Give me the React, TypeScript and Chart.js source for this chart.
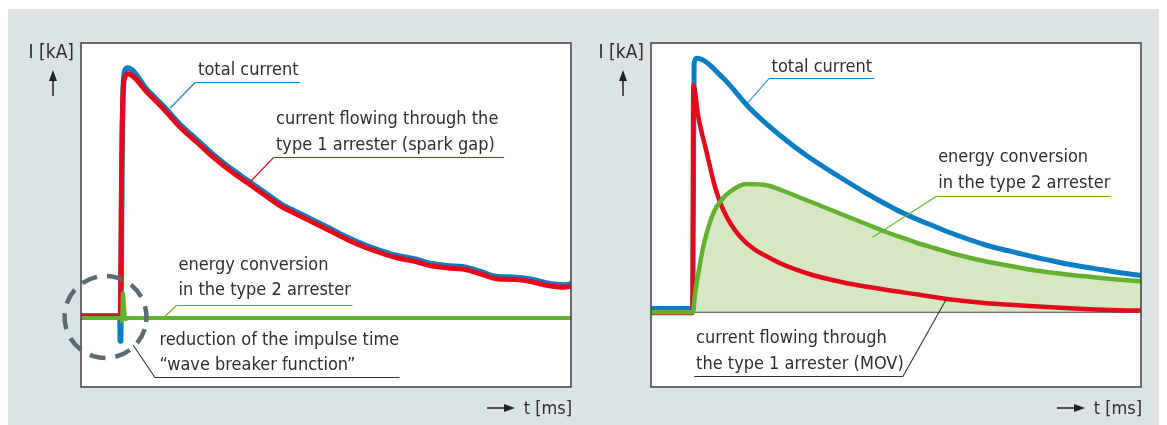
import React, { useEffect, useRef } from "react";
import { Chart, registerables } from "chart.js";

Chart.register(...registerables);

// ---------- Left panel: spark gap (type 1) + type 2 arrester ----------
const tTotalLeft = [0, 7.95, 8.02, 8.1, 8.35, 8.7, 9.1, 9.52, 13.6, 17.0, 20.4, 23.8, 27.2, 30.6, 34.0, 37.4, 40.8, 44.2, 47.6, 51.0, 54.4, 57.8, 61.2, 64.6, 68.0, 71.4, 74.8, 78.2, 81.6, 85.0, 88.4, 91.8, 95.2, 98.6, 100];
const totalLeft = [0.8, 0.8, -9.2, -9.2, 60, 95, 99.5, 100, 91, 84.3, 77, 71, 65, 59.7, 55, 50.3, 45.6, 42.2, 38.9, 35.6, 32.2, 29.3, 26.9, 24.9, 23.6, 21.8, 20.9, 20.4, 18.5, 16.5, 16.3, 15.5, 13.9, 13.2, 13.6];

const tSparkLeft = [0, 8.0, 8.25, 8.55, 9.0, 9.52, 13.6, 17.0, 20.4, 23.8, 27.2, 30.6, 34.0, 37.4, 40.8, 44.2, 47.6, 51.0, 54.4, 57.8, 61.2, 64.6, 68.0, 71.4, 74.8, 78.2, 81.6, 85.0, 88.4, 91.8, 95.2, 98.6, 100];
const sparkLeft = [0.8, 0.8, 50, 90, 96.5, 97.7, 90, 83.3, 76, 70, 64, 58.7, 54, 49.3, 44.7, 41.3, 38, 34.7, 31.3, 28.4, 26, 24, 22.7, 20.9, 20.0, 19.5, 17.6, 15.6, 15.4, 14.6, 13.0, 12.3, 12.7];

const tType2Left = [0, 8.25, 8.35, 8.57, 8.75, 8.95, 9.2, 9.5, 100];
const type2Left = [0, 0, -1.5, 10, 6, 0.5, -0.5, 0, 0];

// ---------- Right panel: MOV (type 1) + type 2 arrester ----------
const tTotalRight = [0, 8.3, 8.55, 8.8, 9.32, 14.76, 20.2, 26.3, 31.8, 38.6, 44.2, 47.6, 51.0, 54.4, 57.8, 61.2, 64.6, 68.0, 71.4, 74.8, 78.2, 81.6, 85.0, 88.4, 91.8, 95.2, 100];
const totalRight = [1.5, 1.5, 1.5, 99.5, 101.6, 93.6, 81.5, 70.8, 62.6, 54.0, 47.3, 43.6, 40.1, 37.1, 34.4, 31.7, 29.3, 27.1, 25.3, 23.7, 22.1, 20.7, 19.3, 18.1, 17.1, 16.0, 14.7];

const tMovRight = [0, 8.3, 8.45, 8.64, 9.66, 11.4, 13.06, 14.76, 18.2, 25.0, 31.8, 38.6, 47.6, 54.4, 61.2, 68.0, 74.8, 81.6, 88.4, 95.2, 100];
const movRight = [-0.3, -0.3, -0.3, 90.9, 78.2, 63.6, 50.2, 40.9, 30.2, 20.9, 15.6, 12.2, 9.1, 7.1, 5.1, 3.7, 2.8, 2.0, 1.3, 0.8, 0.7];

const tType2Right = [0, 8.6, 8.9, 9.66, 10.68, 12.7, 14.4, 16.1, 19.5, 23.8, 27.2, 30.6, 34.0, 37.4, 40.8, 44.2, 47.6, 51.0, 54.4, 57.8, 61.2, 64.6, 68.0, 71.4, 74.8, 78.2, 81.6, 85.0, 88.4, 91.8, 95.2, 100];
const type2Right = [0, 0, 6, 15.6, 26.3, 39.6, 44.9, 48.2, 51.3, 50.7, 48.4, 45.7, 43.1, 40.4, 37.7, 35.1, 32.4, 30.0, 27.7, 25.7, 23.7, 22.0, 20.5, 19.2, 18.0, 16.8, 15.9, 15.1, 14.4, 13.7, 13.1, 12.4];

const tBaselineRight = [8.6, 100];
const baselineRight = [0, 0];

// ---------- text ----------
const yAxisLabel = "I [kA]";
const xAxisLabel = "t [ms]";

const BLUE = "#0a7ec4";
const RED = "#e30a1c";
const GREEN = "#63b22f";
const FILL = "#d6e7c2";
const DARK = "#333333";
const TEXT = "#2e2e2e";
const GRAY_BG = "#dce3e6";
const FONT = "18px 'DejaVu Sans Condensed', 'Liberation Sans', Arial, sans-serif";
const AXIS_FONT = "19px 'DejaVu Sans Condensed', 'Liberation Sans', Arial, sans-serif";
const LINE_GAP = 25.5;

type Note = {
  lines: string[];
  color: string;
  tx: number; ty: number;
  uy: number; ux0: number; ux1: number;
  lx: number; ly: number;
  fromRight?: boolean;
};

const notesLeft: Note[] = [
  { lines: ["total current"], color: BLUE, tx: 23.9, ty: 97.2, uy: 94.3, ux0: 23.3, ux1: 44.7, lx: 18.2, ly: 84 },
  { lines: ["current flowing through the", "type 1 arrester (spark gap)"], color: RED, tx: 39.8, ty: 77.6, uy: 64.4, ux0: 39.3, ux1: 86.3, lx: 34.3, ly: 54 },
  { lines: ["energy conversion", "in the type 2 arrester"], color: GREEN, tx: 19.9, ty: 19.3, uy: 5.3, ux0: 19.5, ux1: 55.4, lx: 17.0, ly: 0.4 },
  { lines: ["reduction of the impulse time", "\u201Cwave breaker function\u201D"], color: DARK, tx: 16.0, ty: -10.7, uy: -23.6, ux0: 15.1, ux1: 65, lx: 10.6, ly: -10.7 },
];

const notesRight: Note[] = [
  { lines: ["total current"], color: BLUE, tx: 24.6, ty: 96, uy: 93.7, ux0: 24.1, ux1: 45.6, lx: 19.4, ly: 83 },
  { lines: ["energy conversion", "in the type 2 arrester"], color: GREEN, tx: 58.6, ty: 60, uy: 46.6, ux0: 58.2, ux1: 93.9, lx: 45.2, ly: 30 },
  { lines: ["current flowing through", "the type 1 arrester (MOV)"], color: DARK, tx: 9.2, ty: -12.3, uy: -25.6, ux0: 8.8, ux1: 51.4, lx: 60.2, ly: 5, fromRight: true },
];

const pts = (ts: number[], vs: number[]) => ts.map((t, i) => ({ x: t, y: vs[i] }));

function makePlugin(notes: Note[], circle: { x: number; y: number } | null) {
  return {
    id: "decor",
    beforeDraw(chart: any) {
      const { ctx, chartArea: a } = chart;
      ctx.save();
      ctx.fillStyle = "#ffffff";
      ctx.fillRect(a.left, a.top, a.right - a.left, a.bottom - a.top);
      ctx.restore();
    },
    afterDraw(chart: any) {
      const { ctx, chartArea: a, scales } = chart;
      const px = (v: number) => scales.x.getPixelForValue(v);
      const py = (v: number) => scales.y.getPixelForValue(v);
      ctx.save();
      // frame
      ctx.strokeStyle = "#4a4a4a";
      ctx.lineWidth = 1.6;
      ctx.strokeRect(a.left, a.top, a.right - a.left, a.bottom - a.top);

      // axis labels
      ctx.fillStyle = TEXT;
      ctx.font = AXIS_FONT;
      ctx.textAlign = "right";
      ctx.textBaseline = "alphabetic";
      ctx.fillText(yAxisLabel, a.left - 7, a.top + 15);
      // up arrow
      const ax = a.left - 28;
      ctx.strokeStyle = "#222";
      ctx.fillStyle = "#222";
      ctx.lineWidth = 1.5;
      ctx.beginPath();
      ctx.moveTo(ax, a.top + 36);
      ctx.lineTo(ax, a.top + 53);
      ctx.stroke();
      ctx.beginPath();
      ctx.moveTo(ax, a.top + 27);
      ctx.lineTo(ax - 4, a.top + 38);
      ctx.lineTo(ax + 4, a.top + 38);
      ctx.closePath();
      ctx.fill();
      // x label
      ctx.fillStyle = TEXT;
      ctx.font = FONT;
      ctx.fillText(xAxisLabel, a.right + 1, a.bottom + 27);
      const ay = a.bottom + 21;
      ctx.fillStyle = "#222";
      ctx.beginPath();
      ctx.moveTo(a.right - 84, ay);
      ctx.lineTo(a.right - 66, ay);
      ctx.stroke();
      ctx.beginPath();
      ctx.moveTo(a.right - 56, ay);
      ctx.lineTo(a.right - 67, ay - 4);
      ctx.lineTo(a.right - 67, ay + 4);
      ctx.closePath();
      ctx.fill();

      // dashed circle
      if (circle) {
        ctx.strokeStyle = "#5a6b76";
        ctx.lineWidth = 4.5;
        ctx.setLineDash([16, 10]);
        ctx.beginPath();
        ctx.arc(px(circle.x), py(circle.y), 41, 0.3, 0.3 + Math.PI * 2);
        ctx.stroke();
        ctx.setLineDash([]);
      }

      // annotations
      ctx.textAlign = "left";
      for (const n of notes) {
        const x = px(n.tx);
        const y = py(n.ty);
        ctx.fillStyle = TEXT;
        ctx.font = FONT;
        n.lines.forEach((s, i) => ctx.fillText(s, x, y + i * LINE_GAP));
        const uy = Math.round(py(n.uy)) + 0.5;
        const x0 = px(n.ux0);
        const x1 = px(n.ux1);
        ctx.strokeStyle = n.color;
        ctx.lineWidth = 1.1;
        ctx.beginPath();
        ctx.moveTo(x1, uy);
        ctx.lineTo(x0, uy);
        ctx.stroke();
        ctx.beginPath();
        ctx.moveTo(n.fromRight ? x1 : x0, uy);
        ctx.lineTo(px(n.lx), py(n.ly));
        ctx.stroke();
      }
      ctx.restore();
    },
  };
}

function leftConfig(): any {
  return {
    type: "line",
    data: {
      datasets: [
        { data: pts(tTotalLeft, totalLeft), borderColor: BLUE, borderWidth: 5.5, order: 3 },
        { data: pts(tSparkLeft, sparkLeft), borderColor: RED, borderWidth: 5, order: 2 },
        { data: pts(tType2Left, type2Left), borderColor: GREEN, borderWidth: 4, order: 1 },
      ],
    },
    options: {
      responsive: false,
      animation: false,
      devicePixelRatio: 1,
      events: [],
      layout: { padding: { left: 73, top: 34, right: 19, bottom: 38 } },
      scales: {
        x: { type: "linear", min: 0, max: 100, display: false },
        y: { type: "linear", min: -27.6, max: 110, display: false },
      },
      elements: {
        point: { radius: 0 },
        line: { cubicInterpolationMode: "monotone", borderCapStyle: "round", borderJoinStyle: "round", fill: false },
      },
      datasets: { line: { clip: 0 } },
      plugins: { legend: { display: false }, tooltip: { enabled: false } },
    },
    plugins: [makePlugin(notesLeft, { x: 5.0, y: 0.4 })],
  };
}

function rightConfig(): any {
  return {
    type: "line",
    data: {
      datasets: [
        { data: pts(tBaselineRight, baselineRight), borderColor: "#444444", borderWidth: 1, order: 4 },
        { data: pts(tTotalRight, totalRight), borderColor: BLUE, borderWidth: 5, order: 3 },
        { data: pts(tMovRight, movRight), borderColor: RED, borderWidth: 4.5, order: 2 },
        { data: pts(tType2Right, type2Right), borderColor: GREEN, borderWidth: 4.5, backgroundColor: FILL, fill: "origin", order: 1 },
      ],
    },
    options: {
      responsive: false,
      animation: false,
      devicePixelRatio: 1,
      events: [],
      layout: { padding: { left: 61, top: 34, right: 26, bottom: 38 } },
      scales: {
        x: { type: "linear", min: 0, max: 100, display: false },
        y: { type: "linear", min: -29.9, max: 107.7, display: false },
      },
      elements: {
        point: { radius: 0 },
        line: { cubicInterpolationMode: "monotone", borderCapStyle: "round", borderJoinStyle: "round" },
      },
      datasets: { line: { clip: 0 } },
      plugins: {
        legend: { display: false },
        tooltip: { enabled: false },
        filler: { drawTime: "beforeDatasetsDraw" },
      },
    },
    plugins: [makePlugin(notesRight, null)],
  };
}

function Panel({ make, width, height, left }: { make: () => any; width: number; height: number; left: number }) {
  const ref = useRef<HTMLCanvasElement>(null);
  useEffect(() => {
    const chart = new Chart(ref.current as HTMLCanvasElement, make());
    return () => chart.destroy();
  }, []);
  return (
    <canvas
      ref={ref}
      width={width}
      height={height}
      style={{ position: "absolute", left, top: 0, width, height, display: "block" }}
    />
  );
}

export default function App() {
  return (
    <div style={{ width: 1159, height: 417, paddingTop: 1, boxSizing: "border-box" }}>
      <div style={{ position: "relative", width: 1159, height: 416, background: GRAY_BG, overflow: "hidden" }}>
        <Panel make={leftConfig} width={582} height={416} left={0} />
        <Panel make={rightConfig} width={577} height={416} left={582} />
      </div>
    </div>
  );
}
